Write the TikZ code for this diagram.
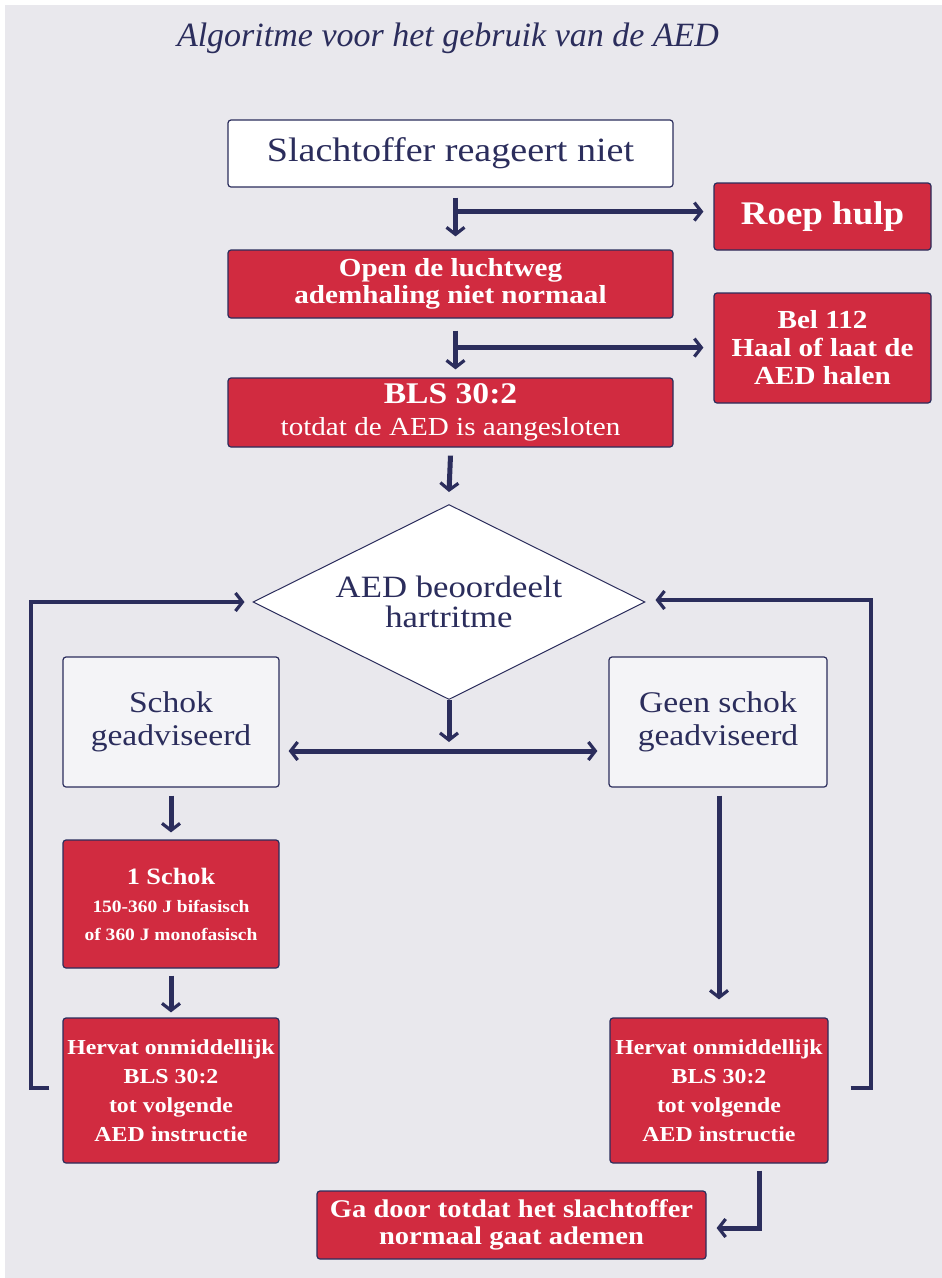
\documentclass[tikz,border=0pt]{standalone}
\usepackage{fontspec}
\setmainfont{Liberation Serif}[FakeStretch=1.12]
\newfontfamily\titlefont{Liberation Serif}
\usetikzlibrary{arrows.meta,shapes.geometric,calc}
\definecolor{aedred}{HTML}{D12B40}
\definecolor{navy}{HTML}{2B2D5C}
\definecolor{bg}{HTML}{E9E8ED}
\definecolor{lightbox}{HTML}{F4F4F7}
\tikzset{
  box/.style={rectangle, rounded corners=3pt, draw=navy, line width=1.2pt, align=center, inner sep=2pt},
  redbox/.style={box, fill=aedred, text=white, font=\bfseries},
  whitebox/.style={box, fill=white, text=navy},
  greybox/.style={box, fill=lightbox, text=navy},
  tip/.style={-{Straight Barb[length=7pt,width=18pt,line width=3.2pt]}},
  conn/.style={draw=navy, line width=5pt, tip},
  loopline/.style={draw=navy, line width=4pt, tip},
}
\begin{document}
\begin{tikzpicture}[x=1pt,y=-1pt]
\useasboundingbox (0,0) rectangle (942,1278);
\fill[white] (0,0) rectangle (942,1278);
\fill[bg] (5,5) rectangle (942,1278);

\node[text=navy, font=\titlefont\fontsize{34}{38}\selectfont\itshape] (title) at (448,38) {Algoritme voor het gebruik van de AED};

\node[whitebox, minimum width=445pt, minimum height=67pt, font=\fontsize{34}{38}\selectfont] (b1) at (450.5,153.5) {Slachtoffer reageert niet};
\node[redbox, minimum width=217pt, minimum height=67pt, font=\fontsize{33}{36}\selectfont\bfseries] (roep) at (822.5,216.5) {Roep hulp};
\node[redbox, minimum width=445pt, minimum height=68pt, font=\fontsize{26}{27}\selectfont\bfseries] (b2) at (450.5,284) {Open de luchtweg\\ademhaling niet normaal};
\node[redbox, minimum width=217pt, minimum height=110pt, font=\fontsize{26}{28}\selectfont\bfseries] (bel) at (822.5,348) {Bel 112\\Haal of laat de\\AED halen};
\node[redbox, minimum width=445pt, minimum height=69pt, font=\fontsize{26}{32}\selectfont] (b3) at (450.5,412.5) {{\fontsize{30}{32}\selectfont\bfseries BLS 30:2}\\{\mdseries totdat de AED is aangesloten}};

\node[diamond, draw=navy, line width=1pt, fill=white, text=navy, aspect=2, inner sep=0pt, minimum width=392pt, minimum height=195pt, align=center, font=\fontsize{31}{30}\selectfont] (dia) at (449,602) {AED beoordeelt\\hartritme};

\node[greybox, minimum width=216pt, minimum height=130pt, font=\fontsize{30}{33}\selectfont] (schok) at (171,722) {Schok\\geadviseerd};
\node[greybox, minimum width=218pt, minimum height=130pt, font=\fontsize{30}{33}\selectfont] (geen) at (718,722) {Geen schok\\geadviseerd};

\node[redbox, minimum width=216pt, minimum height=128pt, font=\fontsize{17.4}{28}\selectfont\bfseries] (sh1) at (171,904) {{\fontsize{23.5}{28}\selectfont 1 Schok}\\150-360 J bifasisch\\of 360 J monofasisch};
\node[redbox, minimum width=216pt, minimum height=145pt, font=\fontsize{21.3}{29}\selectfont\bfseries] (herL) at (171,1090.5) {Hervat onmiddellijk\\BLS 30:2\\tot volgende\\AED instructie};
\node[redbox, minimum width=218pt, minimum height=145pt, font=\fontsize{21.3}{29}\selectfont\bfseries] (herR) at (719,1090.5) {Hervat onmiddellijk\\BLS 30:2\\tot volgende\\AED instructie};
\node[redbox, minimum width=389pt, minimum height=68pt, font=\fontsize{25.5}{27}\selectfont\bfseries] (ga) at (511.5,1225) {Ga door totdat het slachtoffer\\normaal gaat ademen};

% connectors
\draw[conn] ($(b1.south)+(5,10)$) -- ($(b2.north)+(5,-13)$);
\coordinate (j1) at ($(b1.south)+(5,24)$);
\draw[conn] (j1) -- (j1 -| roep.west) [shorten >=10pt];
\draw[conn] ($(b2.south)+(5,12)$) -- ($(b3.north)+(5,-8)$);
\coordinate (j2) at ($(b2.south)+(5,29)$);
\draw[conn] (j2) -- (j2 -| bel.west) [shorten >=10pt];
\draw[conn] ($(b3.south)+(0,8)$) -- ($(dia.north)+(0,-12)$);

\draw[conn] (dia.south) -- ($(dia.south)+(0,42)$);
\coordinate (hb) at ($(dia.south)+(0,51)$);
\draw[draw=navy, line width=5pt, {Straight Barb[length=7pt,width=18pt,line width=3.2pt]}-{Straight Barb[length=7pt,width=18pt,line width=3.2pt]}] ($(hb -| schok.east)+(9,0)$) -- ($(hb -| geen.west)+(-11,0)$);

\draw[conn] ($(schok.south)+(0,8)$) -- ($(sh1.north)+(0,-7)$);
\draw[conn] ($(sh1.south)+(0,7)$) -- ($(herL.north)+(0,-5)$);
\draw[conn] ($(geen.south)+(1,8)$) -- ($(herR.north)+(0,-18)$);

\coordinate (rB) at ($(herR.south)+(40,7)$);
\draw[conn] (rB) |- ($(ga.east)+(10,3)$);

\coordinate (lS) at ($(herL.west)+(-13,-3)$);
\draw[loopline] (lS) -- (31,1087.5) |- ($(dia.west)+(-8,0)$);
\coordinate (rS) at ($(herR.east)+(22,-3)$);
\draw[loopline] (rS) -- (871,1087.5) |- ($(dia.east)+(10,-2)$);
\end{tikzpicture}
\end{document}
